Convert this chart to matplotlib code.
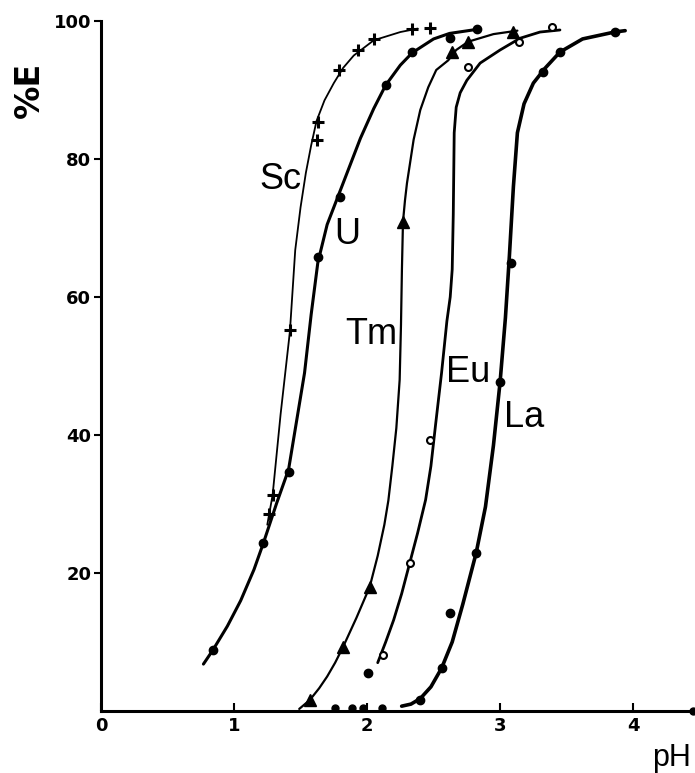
import matplotlib.pyplot as plt

# pH / %E points (markers)
sc_ph = [1.26, 1.29, 1.42, 1.62, 1.63, 1.79, 1.93, 2.05, 2.34, 2.47]
sc_e = [28.5, 31.3, 55.2, 82.8, 85.4, 92.9, 95.8, 97.4, 98.8, 99.0]

u_ph = [0.84, 1.22, 1.41, 1.63, 1.80, 2.14, 2.34, 2.62, 2.83]
u_e = [8.8, 24.3, 34.6, 65.8, 74.5, 90.7, 95.5, 97.6, 98.8]

tm_ph = [1.57, 1.82, 2.02, 2.27, 2.64, 2.76, 3.10]
tm_e = [1.6, 9.3, 18.0, 70.9, 95.5, 97.0, 98.4]

eu_ph = [2.12, 2.32, 2.47, 2.76, 3.14, 3.39]
eu_e = [8.1, 21.4, 39.3, 93.3, 97.0, 99.1]
eu_half_ph = [2.01]
eu_half_e = [5.5]

la_ph = [2.40, 2.56, 2.62, 2.82, 3.00, 3.08, 3.32, 3.45, 3.86]
la_e = [1.6, 6.2, 14.2, 22.9, 47.7, 64.9, 92.6, 95.5, 98.4]

zero_ph = [1.76, 1.89, 1.97, 2.11]
zero_e = [0.4, 0.4, 0.4, 0.4]

# hand-drawn curves
sc_line_ph = [1.25, 1.29, 1.35, 1.42, 1.46, 1.50, 1.54, 1.58, 1.62, 1.68, 1.75, 1.82, 1.90,
              2.05, 2.25, 2.38]
sc_line_e = [27.0, 31.3, 43.0, 55.0, 66.8, 73.0, 78.0, 82.0, 85.5, 88.5, 91.0, 93.2, 95.0,
             97.2, 98.4, 98.9]

u_line_ph = [0.77, 0.84, 0.95, 1.05, 1.15, 1.22, 1.32, 1.41, 1.47, 1.53, 1.58, 1.63, 1.70,
             1.80, 1.88, 1.95, 2.05, 2.14, 2.25, 2.34, 2.50, 2.62, 2.83]
u_line_e = [6.8, 8.8, 12.3, 16.0, 20.5, 24.3, 30.1, 35.0, 42.0, 49.0, 57.5, 65.0, 70.5,
            75.5, 79.5, 83.0, 87.3, 90.7, 93.6, 95.4, 97.4, 98.2, 98.8]

tm_line_ph = [1.49, 1.57, 1.64, 1.70, 1.76, 1.82, 1.92, 2.02, 2.08, 2.13, 2.16, 2.19, 2.22,
              2.245, 2.255, 2.262, 2.27, 2.285, 2.30, 2.35, 2.40, 2.46, 2.52, 2.61, 2.67,
              2.76, 2.95, 3.13]
tm_line_e = [0.3, 1.6, 3.3, 5.0, 7.0, 9.3, 13.5, 18.0, 22.5, 27.0, 30.5, 35.5, 41.0,
             48.0, 56.0, 64.0, 70.9, 74.0, 76.5, 82.8, 87.1, 90.4, 92.9, 94.3, 95.8,
             97.0, 98.1, 98.6]

eu_line_ph = [2.08, 2.14, 2.20, 2.26, 2.32, 2.38, 2.44, 2.48, 2.515, 2.56, 2.60, 2.625, 2.64,
              2.648, 2.655, 2.67, 2.70, 2.75, 2.85, 3.00, 3.15, 3.30, 3.45]
eu_line_e = [7.0, 10.0, 13.2, 17.0, 21.4, 25.8, 30.6, 35.5, 41.5, 49.0, 56.5, 60.0, 64.0,
             72.0, 83.8, 87.5, 89.6, 91.4, 93.9, 95.8, 97.5, 98.4, 98.7]

la_line_ph = [2.26, 2.33, 2.40, 2.48, 2.56, 2.64, 2.72, 2.82, 2.89, 2.95, 3.00, 3.04, 3.07,
              3.10, 3.13, 3.18, 3.25, 3.34, 3.45, 3.62, 3.86, 3.94]
la_line_e = [0.7, 1.0, 1.8, 3.5, 6.2, 10.0, 15.5, 22.9, 29.6, 38.5, 47.7, 57.0, 66.0,
             76.0, 83.8, 88.0, 91.0, 93.2, 95.5, 97.4, 98.4, 98.6]

labels = ['Sc', 'U', 'Tm', 'Eu', 'La']
label_ph = [1.35, 1.85, 2.03, 2.76, 3.18]
label_e = [77.0, 69.0, 54.6, 49.0, 42.6]

xticks = [0, 1, 2, 3, 4]
yticks = [20, 40, 60, 80, 100]

fig = plt.figure(figsize=(6.95, 7.73), dpi=100)
ax = fig.add_axes([101 / 695, 62 / 773, 592 / 695, 690 / 773])

k = 'black'
line_kw = dict(color=k, solid_joinstyle='round', solid_capstyle='round')
ax.plot(sc_line_ph, sc_line_e, lw=1.3, **line_kw)
ax.plot(u_line_ph, u_line_e, lw=2.2, **line_kw)
ax.plot(tm_line_ph, tm_line_e, lw=1.6, **line_kw)
ax.plot(eu_line_ph, eu_line_e, lw=2.0, **line_kw)
ax.plot(la_line_ph, la_line_e, lw=2.6, **line_kw)

ax.plot(sc_ph, sc_e, ls='none', marker='+', ms=9, mew=2.2, color=k)
ax.plot(u_ph, u_e, ls='none', marker='o', ms=6, color=k)
ax.plot(tm_ph, tm_e, ls='none', marker='^', ms=8, color=k)
ax.plot(eu_ph, eu_e, ls='none', marker='o', ms=5, mfc='white', mec=k, mew=1.5)
ax.plot(eu_half_ph, eu_half_e, ls='none', marker='o', ms=6, color=k)
ax.plot(la_ph, la_e, ls='none', marker='o', ms=6, color=k)
ax.plot(zero_ph, zero_e, ls='none', marker='o', ms=5, color=k, clip_on=False)

for t, x, y in zip(labels, label_ph, label_e):
    ax.text(x, y, t, fontsize=26, ha='center', va='center', family='Liberation Sans')

ax.set_xlim(0, 4.45)
ax.set_ylim(0, 100)
ax.plot([4.45], [0], marker='o', ms=5, color=k, clip_on=False)

ax.spines['top'].set_visible(False)
ax.spines['right'].set_visible(False)
ax.spines['left'].set_linewidth(2.2)
ax.spines['bottom'].set_linewidth(2.2)

ax.set_xticks(xticks)
ax.set_xticklabels([str(v) for v in xticks], fontweight='bold', fontsize=13)
ax.set_yticks(yticks)
ax.set_yticklabels([str(v) for v in yticks], fontweight='bold', fontsize=13)
ax.tick_params(axis='x', direction='in', length=6, width=1.5, pad=4)
ax.tick_params(axis='y', direction='out', length=5, width=1.5, pad=2)

fig.text(29 / 695, 1 - 90 / 773, '%E', rotation=90, fontsize=24, fontweight='bold',
         ha='center', va='center')
fig.text(672 / 695, 1 - 758 / 773, 'pH', fontsize=22, ha='center', va='center',
         family='Liberation Sans')

fig.savefig('out.png', dpi=100)
